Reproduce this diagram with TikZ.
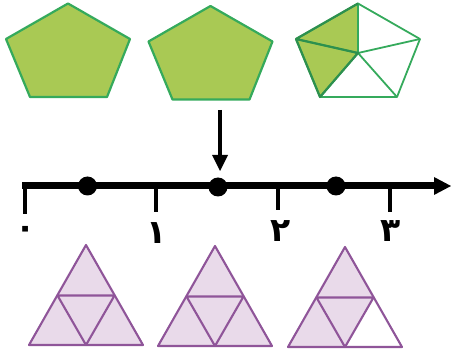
\documentclass[tikz,border=0pt]{standalone}
\usepackage{fontspec}
\newfontfamily\arabicfont[Script=Arabic]{DejaVu Sans}
\TeXXeTstate=1
\definecolor{pentfill}{HTML}{A9C954}
\definecolor{pentline}{HTML}{35AA5C}
\definecolor{trifill}{HTML}{E9DAEA}
\definecolor{triline}{HTML}{8F5599}
\tikzset{
  pent/.style={draw=pentline,line width=2.2pt,line join=round},
  tri/.style={draw=triline,line width=2.1pt,line join=round},
  axisline/.style={draw=black,line width=6.5pt},
  ticker/.style={draw=black,line width=4pt},
  dotmark/.style={circle,fill=black,inner sep=0pt,minimum size=19pt},
  numeral/.style={inner sep=0pt,font=\arabicfont\bfseries\fontsize{33}{33}\selectfont},
}
\newcommand{\Pent}[3]{%
  \begin{scope}[shift={(#1,#2)}]
    \path[pent,#3] (68,3.5)--(130,39)--(107,97)--(30,97)--(6,39)--cycle;
  \end{scope}}
\newcommand{\Tri}[3]{%
  \begin{scope}[shift={(#1,#2)}]
    \path[fill=trifill] (57,0)--(114,100)--(0,100)--cycle;
    #3
    \draw[tri] (57,0)--(114,100)--(0,100)--cycle;
    \draw[tri] (28.5,50.5)--(85.5,50.5)--(57,100)--cycle;
  \end{scope}}
\begin{document}
\begin{tikzpicture}[x=1pt,y=-1pt]
\useasboundingbox (0,0) rectangle (451,353);
% pentagons
\Pent{0}{0}{fill=pentfill}
\Pent{142.5}{2.5}{fill=pentfill}
\begin{scope}[shift={(290,0)}]
  \fill[pentfill] (68,3.5)--(68,53)--(30,97)--(6,39)--cycle;
  \draw[pent,line width=1.8pt] (68,3.5)--(130,39)--(107,97)--(30,97)--(6,39)--cycle;
  \draw[pent,line width=1.8pt] (68,53)--(68,3.5) (68,53)--(130,39) (68,53)--(107,97) (68,53)--(30,97) (68,53)--(6,39);
  \draw[draw=pentline!85!black,line width=2.2pt,line join=round] (68,3.5)--(6,39)--(30,97)--(68,53)--(6,39);
\end{scope}
% pointer
\coordinate (ptop) at (220,110);
\coordinate (pend) at (220,157);
\fill[black] (212,155)--(228,155)--(220,171)--cycle;
\draw[line width=4.5pt] (ptop) -- (pend);
% axis
\coordinate (a0) at (22,185.5);
\coordinate (a1) at (436,185.5);
\draw[axisline] (a0) -- (a1);
\fill[black] (434,177)--(451,186)--(434,195)--cycle;
\coordinate (t0) at (24.5,183);
\coordinate (t0e) at (24.5,214);
\coordinate (t1) at (156,186);
\coordinate (t1e) at (156,212);
\coordinate (t2) at (278,186);
\coordinate (t2e) at (278,210);
\coordinate (t3) at (390,186);
\coordinate (t3e) at (390,212);
\draw[ticker] (t0)--(t0e) (t1)--(t1e) (t2)--(t2e) (t3)--(t3e);
\node[dotmark] (d1) at (87.5,186) {};
\node[dotmark] (d2) at (218,187) {};
\node[dotmark] (d3) at (336,186) {};
% numerals
\node[numeral] (n0) at (26,232) {\beginR ۰\endR};
\node[numeral] (n1) at (156.5,233) {\beginR ۱\endR};
\node[numeral] (n2) at (281,231) {\beginR ۲\endR};
\node[numeral] (n3) at (391,231) {\beginR ۳\endR};
% triangles
\Tri{29}{245}{}
\Tri{158}{246}{}
\Tri{288}{247}{\fill[white] (85.5,50.5)--(114,100)--(57,100)--cycle;}
\end{tikzpicture}
\end{document}
